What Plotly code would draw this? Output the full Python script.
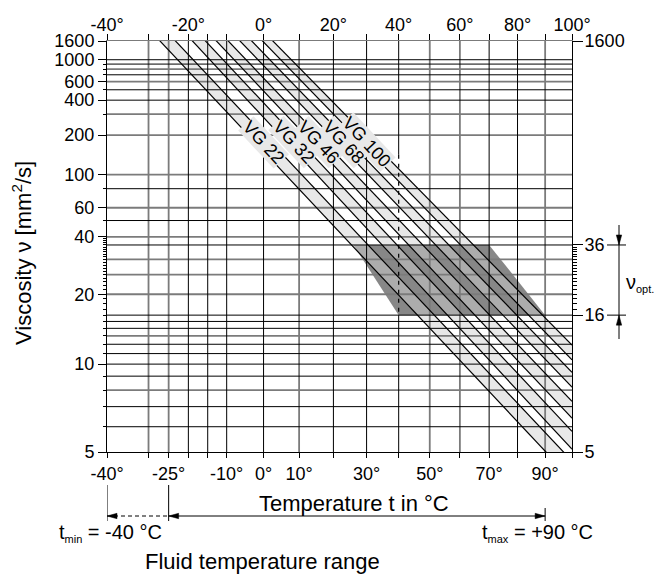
import numpy as np
import plotly.graph_objects as go

# ---------------- data ----------------
top_temp_ticks = [-40, -20, 0, 20, 40, 60, 80, 100]
bottom_temp_ticks = [-40, -25, -10, 0, 10, 30, 50, 70, 90]
temp_grid_gray = [-30, -25, 10, 50, 60, 90]
temp_grid_black = [-20, -15, -10, 0, 20, 30, 70, 80]
temp_grid_dashed = [40]
temp_edges = [-40, 100]

visc_left_ticks = [1600, 1000, 600, 400, 200, 100, 60, 40, 20, 10, 5]
visc_right_ticks = [1600, 36, 16, 5]
visc_grid_gray = [800, 600, 300, 200, 100, 60, 40, 30, 25, 20, 13, 8]
visc_grid_black = [1000, 900, 700, 500, 400, 80, 50, 36, 16, 15, 14, 12, 11, 10, 9, 7, 6]
visc_edges = [5, 1600]
visc_minor_left = list(range(17, 40))
visc_minor_right = list(range(17, 36))

vg_names = ["VG 22", "VG 32", "VG 46", "VG 68", "VG 100"]
nu40_min = [19.8, 28.8, 41.4, 61.2, 90.0]
nu40_max = [24.2, 35.2, 50.6, 74.8, 110.0]
nu100_min = [4.15, 5.1, 6.4, 8.2, 10.4]
nu100_max = [4.7, 5.8, 7.3, 9.3, 11.9]
vg_label_visc = 175

opt_temp = [26, 70, 90, 40]
opt_visc = [36, 36, 16, 16]
opt_limits = [36, 16]
dash_visc = [140, 16]
t_min, t_mid, t_max = -40, -25, 90

FONT = "Liberation Sans, Arial, Helvetica, sans-serif"

# ------------- ASTM-type transforms -------------
def X(t):
    return np.log10(np.asarray(t, dtype=float) + 273.15)

def Y(v):
    return np.log10(np.log10(np.asarray(v, dtype=float) + 0.7))

x_lo, x_hi = float(X(-40)), float(X(100))
y_lo, y_hi = float(Y(5)), float(Y(1600))

def vg_line(n40, n100):
    s = (Y(n100) - Y(n40)) / (X(100) - X(40))
    xs = np.array([x_lo, x_hi])
    ys = Y(n40) + s * (xs - X(40))
    return xs, ys, s

fig = go.Figure()

# optimum viscosity region
ox = list(X(opt_temp)) + [float(X(opt_temp[0]))]
oy = list(Y(opt_visc)) + [float(Y(opt_visc[0]))]
fig.add_trace(go.Scatter(x=ox, y=oy, fill="toself", fillcolor="#878787",
                         mode="lines", line=dict(width=0), hoverinfo="skip", showlegend=False))

# grade bands
for i in range(len(vg_names)):
    xa, ya, _ = vg_line(nu40_min[i], nu100_min[i])
    xb, yb, _ = vg_line(nu40_max[i], nu100_max[i])
    px = [xa[0], xa[1], xb[1], xb[0], xa[0]]
    py = [ya[0], ya[1], yb[1], yb[0], ya[0]]
    fig.add_trace(go.Scatter(x=px, y=py, fill="toself", fillcolor="rgba(210,210,210,0.5)",
                             mode="lines", line=dict(width=0), hoverinfo="skip", showlegend=False))

def grid_trace(temps, viscs, color, width):
    gx, gy = [], []
    for t in temps:
        gx += [float(X(t)), float(X(t)), None]
        gy += [y_lo, y_hi, None]
    for v in viscs:
        gx += [x_lo, x_hi, None]
        gy += [float(Y(v)), float(Y(v)), None]
    return go.Scatter(x=gx, y=gy, mode="lines", line=dict(color=color, width=width),
                      hoverinfo="skip", showlegend=False)

fig.add_trace(grid_trace(temp_grid_gray, visc_grid_gray, "#7b7b7b", 1.8))
fig.add_trace(grid_trace(temp_grid_black, visc_grid_black, "#000000", 1.0))

# 40 degree line: solid / dashed / solid
for t in temp_grid_dashed:
    xt = float(X(t))
    fig.add_trace(go.Scatter(x=[xt, xt, None, xt, xt], y=[y_hi, float(Y(dash_visc[0])), None,
                             float(Y(dash_visc[1])), y_lo], mode="lines",
                             line=dict(color="#000", width=1), hoverinfo="skip", showlegend=False))
    fig.add_trace(go.Scatter(x=[xt, xt], y=[float(Y(dash_visc[0])), float(Y(dash_visc[1]))],
                             mode="lines", line=dict(color="#000", width=1.2, dash="4px,5px"),
                             hoverinfo="skip", showlegend=False))

# grade lines
for i in range(len(vg_names)):
    for n40, n100 in ((nu40_min[i], nu100_min[i]), (nu40_max[i], nu100_max[i])):
        xs, ys, _ = vg_line(n40, n100)
        fig.add_trace(go.Scatter(x=xs, y=ys, mode="lines", line=dict(color="#000", width=1.2),
                                 hoverinfo="skip", showlegend=False))

# dummy trace for secondary axes
fig.add_trace(go.Scatter(x=[x_lo], y=[y_lo], xaxis="x2", yaxis="y2", mode="markers",
                         marker=dict(opacity=0), hoverinfo="skip", showlegend=False))

# grade labels along band centre
annotations = []
for i, name in enumerate(vg_names):
    xa, ya, sa = vg_line(nu40_min[i], nu100_min[i])
    xb, yb, sb = vg_line(nu40_max[i], nu100_max[i])
    yl = float(Y(vg_label_visc))
    x1 = xa[0] + (yl - ya[0]) / sa
    x2 = xb[0] + (yl - yb[0]) / sb
    annotations.append(dict(x=(x1 + x2) / 2, y=yl, xref="x", yref="y", text=name,
                            showarrow=False, textangle=47, xanchor="center", yanchor="middle",
                            font=dict(family=FONT, size=18, color="#000"),
                            bgcolor="#e8e8e8", borderpad=0))

W, H = 654, 574
L, R, T, B = 107, 82, 41, 122
pw, ph = W - L - R, H - T - B

def pxx(p):
    return (p - L) / pw

def pxy(p):
    return (T + ph - p) / ph

def txt(xp, yp, text, size, **kw):
    d = dict(x=pxx(xp), y=pxy(yp), xref="paper", yref="paper", text=text, showarrow=False,
             xanchor="center", yanchor="middle", font=dict(family=FONT, size=size, color="#000"))
    d.update(kw)
    return d

sub = "<sub><span style='font-size:11px'>{}</span></sub>"
annotations += [
    txt(22, 253, "Viscosity ν [mm<sup>2</sup>/s]", 22, textangle=-90),
    txt(354, 503, "Temperature t in °C", 22),
    txt(262, 561, "Fluid temperature range", 22),
    txt(110, 533, "t" + sub.format("min") + " = -40 °C", 20),
    txt(537, 533, "t" + sub.format("max") + " = +90 °C", 20),
    txt(624, 283, "ν" + sub.format("opt."), 20, xanchor="left"),
]

shapes = []
ya_arrow = pxy(516)
# bottom range indicator
for t in (t_min, t_mid):
    shapes.append(dict(type="line", xref="x", yref="paper", x0=float(X(t)), x1=float(X(t)),
                       y0=pxy(485), y1=pxy(521), line=dict(color="#000", width=1)))
shapes.append(dict(type="line", xref="x", yref="paper", x0=float(X(t_max)), x1=float(X(t_max)),
                   y0=pxy(508), y1=pxy(521), line=dict(color="#000", width=1)))
shapes.append(dict(type="line", xref="x", yref="paper", x0=float(X(t_min)), x1=float(X(t_mid)),
                   y0=ya_arrow, y1=ya_arrow, line=dict(color="#000", width=1, dash="4px,3px")))
shapes.append(dict(type="line", xref="x", yref="paper", x0=float(X(t_mid)), x1=float(X(t_max)),
                   y0=ya_arrow, y1=ya_arrow, line=dict(color="#000", width=1)))
left_head = "M0,0 L10,2.7 L10,-2.7 Z"
right_head = "M0,0 L-10,2.7 L-10,-2.7 Z"
for t, pth in ((t_min, left_head), (t_mid, left_head), (t_max, right_head)):
    shapes.append(dict(type="path", xref="x", yref="paper", xsizemode="pixel", ysizemode="pixel",
                       xanchor=float(X(t)), yanchor=ya_arrow, path=pth,
                       fillcolor="#000", line=dict(color="#000", width=0.5)))

# nu_opt bracket on the right
xb_ = pxx(619)
for v in opt_limits:
    shapes.append(dict(type="line", xref="paper", yref="y", x0=pxx(607), x1=pxx(626),
                       y0=float(Y(v)), y1=float(Y(v)), line=dict(color="#000", width=1)))
shapes.append(dict(type="line", xref="paper", yref="paper", x0=xb_, x1=xb_,
                   y0=pxy(225), y1=pxy(339), line=dict(color="#000", width=1)))
shapes.append(dict(type="path", xref="paper", yref="y", xsizemode="pixel", ysizemode="pixel",
                   xanchor=xb_, yanchor=float(Y(opt_limits[0])), path="M0,0 L-2.7,10 L2.7,10 Z",
                   fillcolor="#000", line=dict(color="#000", width=0.5)))
shapes.append(dict(type="path", xref="paper", yref="y", xsizemode="pixel", ysizemode="pixel",
                   xanchor=xb_, yanchor=float(Y(opt_limits[1])), path="M0,0 L-2.7,-10 L2.7,-10 Z",
                   fillcolor="#000", line=dict(color="#000", width=0.5)))

all_temp_grid = sorted(set(temp_edges + temp_grid_gray + temp_grid_black + temp_grid_dashed))
tickfont = dict(family=FONT, size=18, color="#000")
common_x = dict(range=[x_lo, x_hi], showgrid=False, zeroline=False, ticks="outside",
                tickcolor="#000", tickwidth=1, tickfont=tickfont, showline=True, linewidth=1)
common_y = dict(range=[y_lo, y_hi], showgrid=False, zeroline=False, ticks="outside",
                tickcolor="#000", tickwidth=1, tickfont=tickfont, showline=True, linewidth=1,
                linecolor="#000")

left_minor = sorted(set([v for v in visc_grid_gray + visc_grid_black if v not in visc_left_ticks]
                        + visc_minor_left))

fig.update_layout(
    width=W, height=H, margin=dict(l=L, r=R, t=T, b=B, pad=0),
    plot_bgcolor="white", paper_bgcolor="white", showlegend=False,
    xaxis=dict(**common_x, tickmode="array", tickvals=list(X(bottom_temp_ticks)),
               ticktext=[f"{t}°" for t in bottom_temp_ticks], ticklen=5, linecolor="#000",
               minor=dict(tickmode="array", tickvals=list(X(all_temp_grid)), ticks="outside",
                          ticklen=5, tickcolor="#000", showgrid=False)),
    xaxis2=dict(**common_x, overlaying="x", side="top", anchor="y", tickmode="array",
                tickvals=list(X(top_temp_ticks)), ticktext=[f"{t}°" for t in top_temp_ticks],
                ticklen=6, linecolor="#7b7b7b", ticklabelstandoff=-4,
                minor=dict(tickmode="array", tickvals=list(X(all_temp_grid)), ticks="outside",
                           ticklen=6, tickcolor="#000", showgrid=False)),
    yaxis=dict(**common_y, tickmode="array", tickvals=list(Y(visc_left_ticks)),
               ticktext=[str(v) for v in visc_left_ticks], ticklen=8,
               minor=dict(tickmode="array", tickvals=list(Y(left_minor)), ticks="outside",
                          ticklen=3, tickcolor="#000", showgrid=False)),
    yaxis2=dict(**common_y, overlaying="y", side="right", anchor="x", tickmode="array",
                tickvals=list(Y(visc_right_ticks)), ticktext=[str(v) for v in visc_right_ticks],
                ticklen=10, ticklabelstandoff=-2,
                minor=dict(tickmode="array", tickvals=list(Y(visc_minor_right)), ticks="outside",
                           ticklen=4, tickcolor="#000", showgrid=False)),
    annotations=annotations, shapes=shapes,
)

fig.write_html("out.html", config={"displayModeBar": False},
               post_script="document.body.style.margin='0px';")
